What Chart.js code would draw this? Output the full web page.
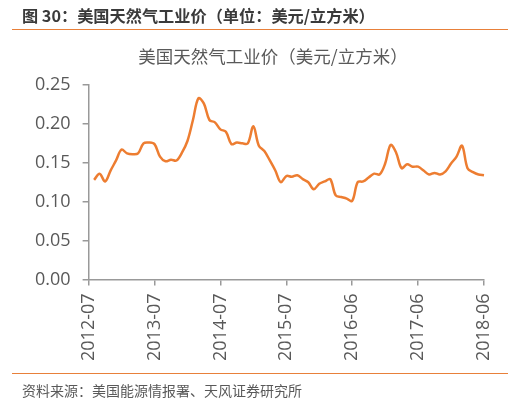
<!DOCTYPE html>
<html>
<head>
<meta charset="utf-8">
<script src="https://cdn.jsdelivr.net/npm/chart.js@4/dist/chart.umd.min.js"></script>
<style>
  html, body { margin: 0; padding: 0; background: #fff; }
  #wrap { position: relative; width: 519px; height: 411px; overflow: hidden; }
  #head { position: absolute; left: 22px; top: 3px; font: bold 16.2px "Noto Sans CJK SC", sans-serif; color: #3a3a3a; white-space: nowrap; }
  #rule1 { position: absolute; left: 12px; width: 496px; top: 29px; height: 1px; background: #e8803a; }
  #rule2 { position: absolute; left: 12px; width: 496px; top: 373px; height: 1px; background: #e8803a; }
  #title { position: absolute; left: 0; width: 546px; text-align: center; top: 43px; font: 17.5px "Noto Sans CJK SC", sans-serif; color: #595959; white-space: nowrap; }
  #src { position: absolute; left: 22px; top: 380px; font: 14px "Noto Sans CJK SC", sans-serif; color: #595959; white-space: nowrap; }
  canvas { position: absolute; left: 0; top: 0; }
</style>
</head>
<body>
<div id="wrap">
  <canvas id="myChart" width="519" height="411"></canvas>
  <div id="head">图 30：美国天然气工业价（单位：美元/立方米）</div>
  <div id="rule1"></div>
  <div id="title">美国天然气工业价（美元/立方米）</div>
  <div id="rule2"></div>
  <div id="src">资料来源：美国能源情报署、天风证券研究所</div>
</div>
<script>
  // 月份（每12个显示一个刻度）
  const months = [
    '2012-07','2012-08','2012-09','2012-10','2012-11','2012-12',
    '2013-01','2013-02','2013-03','2013-04','2013-05','2013-06','2013-07','2013-08','2013-09','2013-10','2013-11','2013-12',
    '2014-01','2014-02','2014-03','2014-04','2014-05','2014-06','2014-07','2014-08','2014-09','2014-10','2014-11','2014-12',
    '2015-01','2015-02','2015-03','2015-04','2015-05','2015-06','2015-07','2015-08','2015-09','2015-10','2015-11','2015-12',
    '2016-01','2016-02','2016-03','2016-04','2016-05','2016-06','2016-07','2016-08','2016-09','2016-10','2016-11','2016-12',
    '2017-01','2017-02','2017-03','2017-04','2017-05','2017-06','2017-07','2017-08','2017-09','2017-10','2017-11','2017-12',
    '2018-01','2018-02','2018-03','2018-04','2018-05','2018-06','2018-07'
  ];
  const tickLabels = ['2012-07','2013-07','2014-07','2015-07','2016-06','2017-06','2018-06'];

  // 美元/立方米
  const price = [
    null, 0.128, 0.136, 0.126, 0.140, 0.153, 0.167, 0.162, 0.161, 0.162, 0.175, 0.176,
    0.174, 0.158, 0.152, 0.154, 0.153, 0.163, 0.178, 0.205, 0.233, 0.226, 0.205, 0.202,
    0.193, 0.190, 0.174, 0.176, 0.175, 0.175, 0.197, 0.172, 0.165, 0.153, 0.140, 0.125,
    0.133, 0.132, 0.134, 0.129, 0.125, 0.116, 0.123, 0.126, 0.129, 0.108, 0.106, 0.104,
    0.101, 0.125, 0.126, 0.131, 0.136, 0.135, 0.149, 0.173, 0.163, 0.143, 0.148, 0.145,
    0.145, 0.140, 0.135, 0.137, 0.135, 0.139, 0.149, 0.158, 0.172, 0.143, 0.138, 0.135,
    0.134
  ];

  const yTicks = [0, 0.05, 0.10, 0.15, 0.20, 0.25];

  const axisGray = '#999999';
  const txtGray = '#595959';

  const ctx = document.getElementById('myChart');

  new Chart(ctx, {
    type: 'line',
    data: {
      labels: months,
      datasets: [
        {
          label: '美国天然气工业价',
          data: price,
          borderColor: '#ed7d31',
          backgroundColor: '#ed7d31',
          borderWidth: 2.5,
          pointRadius: 0,
          tension: 0.35,
          fill: false
        }
      ]
    },
    options: {
      responsive: false,
      animation: false,
      layout: {
        padding: { top: 85, left: 23, right: 35, bottom: 42 }
      },
      plugins: {
        legend: { display: false },
        tooltip: { enabled: false },
        title: { display: false }
      },
      scales: {
        x: {
          offset: false,
          grid: {
            drawOnChartArea: false,
            drawTicks: true,
            tickLength: 6,
            lineWidth: 1.5,
            color: (c) => (c.index % 12 === 0 ? axisGray : 'rgba(0,0,0,0)')
          },
          border: { color: axisGray, width: 1.5 },
          ticks: {
            autoSkip: false,
            maxRotation: 90,
            minRotation: 90,
            padding: 8,
            color: txtGray,
            font: { family: '"Open Sans", sans-serif', size: 18 },
            callback: (v, i) => (i % 12 === 0 ? tickLabels[i / 12] : '')
          }
        },
        y: {
          min: 0,
          max: 0.25,
          afterBuildTicks: (axis) => { axis.ticks = yTicks.map(v => ({ value: v })); },
          grid: {
            drawOnChartArea: false,
            drawTicks: true,
            tickLength: 6,
            lineWidth: 1.5,
            color: axisGray
          },
          border: { color: axisGray, width: 1.5 },
          ticks: {
            padding: 12,
            color: txtGray,
            font: { family: '"Open Sans", sans-serif', size: 18 },
            callback: (v) => v.toFixed(2)
          }
        }
      }
    }
  });
</script>
</body>
</html>
